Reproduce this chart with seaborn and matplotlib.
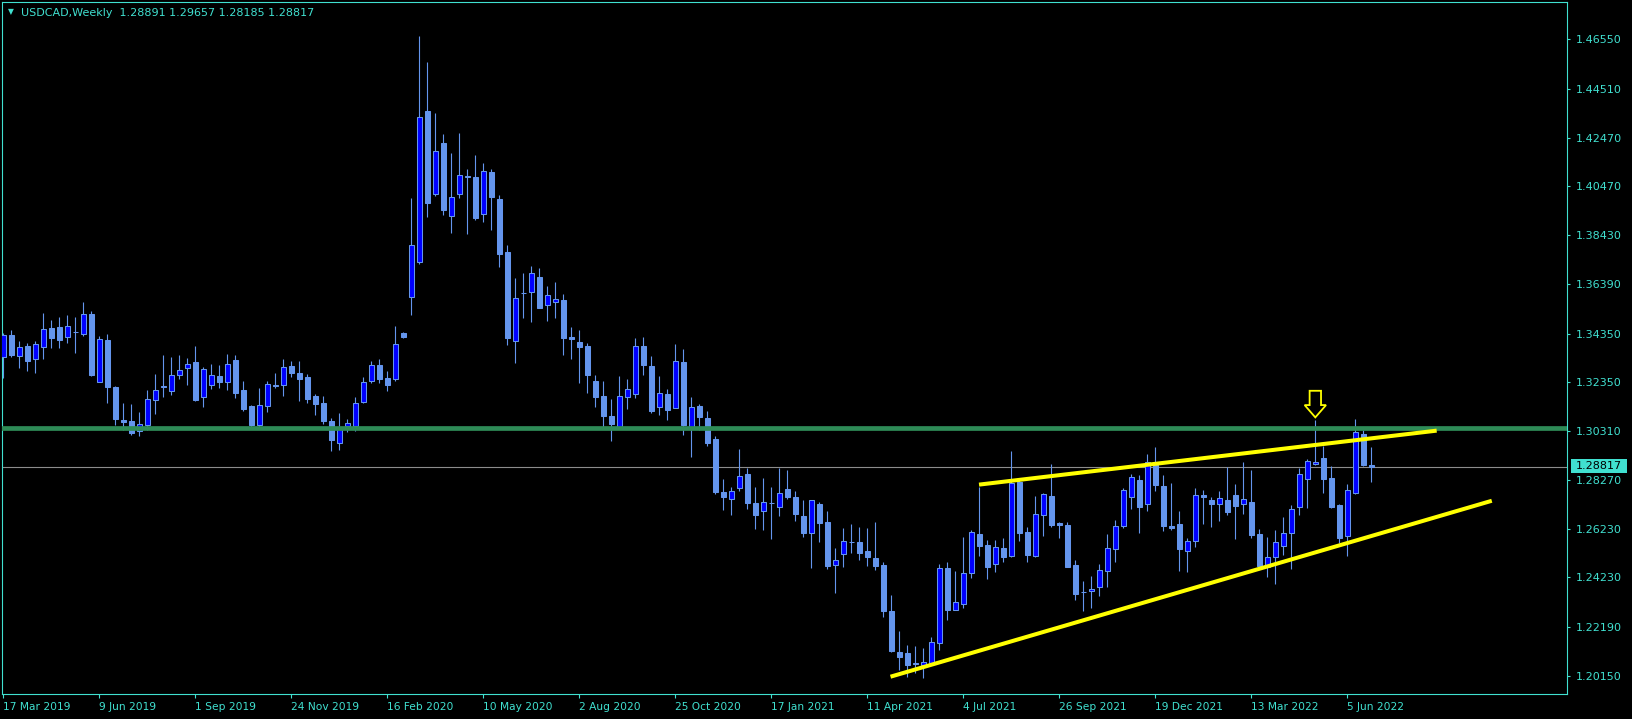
import numpy as np
import pandas as pd
import matplotlib
matplotlib.use("Agg")
import matplotlib.pyplot as plt
import seaborn as sns
from matplotlib.patches import Polygon, Rectangle

# ---------------- data (weekly USDCAD candles) ----------------
opens = [1.3336, 1.3429, 1.3343, 1.3383, 1.3331, 1.3381, 1.3458, 1.3462, 1.3422, 1.3441,
         1.3434, 1.3516, 1.3235, 1.3408, 1.3213, 1.3076, 1.3072, 1.3032, 1.3055, 1.3161,
         1.3216, 1.3198, 1.3264, 1.3293, 1.3317, 1.3173, 1.3220, 1.3259, 1.3235, 1.3325,
         1.3201, 1.3134, 1.3057, 1.3136, 1.3220, 1.3223, 1.3300, 1.3270, 1.3255, 1.3176,
         1.3147, 1.3072, 1.2982, 1.3051, 1.3053, 1.3152, 1.3237, 1.3303, 1.3249, 1.3245,
         1.3436, 1.3588, 1.3733, 1.4358, 1.4015, 1.4226, 1.3924, 1.4015, 1.4088, 1.4085,
         1.3932, 1.4105, 1.3993, 1.3773, 1.3405, 1.3605, 1.3609, 1.3668, 1.3555, 1.3567,
         1.3574, 1.3419, 1.3399, 1.3383, 1.3238, 1.3176, 1.3093, 1.3049, 1.3173, 1.3185,
         1.3382, 1.3300, 1.3129, 1.3184, 1.3127, 1.3317, 1.3042, 1.3134, 1.3084, 1.2997,
         1.2777, 1.2750, 1.2795, 1.2852, 1.2732, 1.2700, 1.2731, 1.2717, 1.2790, 1.2757,
         1.2678, 1.2609, 1.2728, 1.2653, 1.2473, 1.2519, 1.2569, 1.2569, 1.2531, 1.2502,
         1.2473, 1.2284, 1.2112, 1.2108, 1.2066, 1.2061, 1.2069, 1.2152, 1.2462, 1.2288,
         1.2313, 1.2443, 1.2603, 1.2556, 1.2477, 1.2544, 1.2513, 1.2818, 1.2610, 1.2513,
         1.2681, 1.2761, 1.2647, 1.2639, 1.2473, 1.2362, 1.2365, 1.2382, 1.2448, 1.2540,
         1.2638, 1.2755, 1.2827, 1.2726, 1.2903, 1.2802, 1.2635, 1.2645, 1.2531, 1.2576,
         1.2765, 1.2744, 1.2729, 1.2744, 1.2765, 1.2726, 1.2736, 1.2603, 1.2468, 1.2509,
         1.2555, 1.2606, 1.2714, 1.2830, 1.2895, 1.2917, 1.2834, 1.2723, 1.2593, 1.2775,
         1.3017, 1.28891]
highs = [1.3436, 1.3450, 1.3404, 1.3394, 1.3404, 1.3521, 1.3491, 1.3504, 1.3512, 1.3504,
         1.3566, 1.3527, 1.3423, 1.3433, 1.3219, 1.3147, 1.3143, 1.3109, 1.3201, 1.3267,
         1.3346, 1.3338, 1.3346, 1.3333, 1.3383, 1.3295, 1.3309, 1.3304, 1.3350, 1.3346,
         1.3238, 1.3137, 1.3210, 1.3238, 1.3271, 1.3329, 1.3321, 1.3321, 1.3266, 1.3184,
         1.3176, 1.3083, 1.3104, 1.3079, 1.3170, 1.3253, 1.3321, 1.3329, 1.3279, 1.3466,
         1.3441, 1.3996, 1.4669, 1.4562, 1.4350, 1.4263, 1.4183, 1.4267, 1.4118, 1.4176,
         1.4141, 1.4118, 1.4010, 1.3802, 1.3665, 1.3686, 1.3715, 1.3706, 1.3632, 1.3649,
         1.3599, 1.3462, 1.3450, 1.3394, 1.3263, 1.3238, 1.3163, 1.3259, 1.3246, 1.3416,
         1.3421, 1.3342, 1.3259, 1.3205, 1.3392, 1.3371, 1.3172, 1.3141, 1.3113, 1.3010,
         1.2831, 1.2798, 1.2956, 1.2877, 1.2798, 1.2835, 1.2798, 1.2878, 1.2869, 1.2782,
         1.2744, 1.2745, 1.2736, 1.2699, 1.2545, 1.2628, 1.2645, 1.2632, 1.2628, 1.2653,
         1.2486, 1.2350, 1.2201, 1.2141, 1.2138, 1.2129, 1.2176, 1.2477, 1.2486, 1.2450,
         1.2589, 1.2620, 1.2800, 1.2578, 1.2578, 1.2585, 1.2948, 1.2827, 1.2631, 1.2761,
         1.2775, 1.2894, 1.2653, 1.2652, 1.2495, 1.2408, 1.2429, 1.2479, 1.2603, 1.2661,
         1.2794, 1.2851, 1.2848, 1.2935, 1.2964, 1.2848, 1.2815, 1.2699, 1.2585, 1.2794,
         1.2784, 1.2758, 1.2782, 1.2880, 1.2811, 1.2901, 1.2869, 1.2624, 1.2589, 1.2620,
         1.2674, 1.2722, 1.2876, 1.2914, 1.3076, 1.2968, 1.2884, 1.2726, 1.2811, 1.3080,
         1.3035, 1.29657]
lows = [1.3249, 1.3339, 1.3293, 1.3281, 1.3273, 1.3329, 1.3375, 1.3375, 1.3396, 1.3356,
        1.3426, 1.3259, 1.3235, 1.3147, 1.3056, 1.3035, 1.3015, 1.3010, 1.3035, 1.3101,
        1.3172, 1.3180, 1.3248, 1.3221, 1.3155, 1.3132, 1.3206, 1.3210, 1.3201, 1.3169,
        1.3115, 1.3049, 1.3041, 1.3111, 1.3210, 1.3176, 1.3256, 1.3157, 1.3148, 1.3098,
        1.3061, 1.2949, 1.2952, 1.3028, 1.3032, 1.3145, 1.3231, 1.3231, 1.3198, 1.3239,
        1.3415, 1.3512, 1.3725, 1.3920, 1.4007, 1.3927, 1.3854, 1.3999, 1.3849, 1.3906,
        1.3898, 1.3865, 1.3711, 1.3387, 1.3314, 1.3500, 1.3484, 1.3540, 1.3488, 1.3500,
        1.3346, 1.3329, 1.3231, 1.3190, 1.3132, 1.3044, 1.2991, 1.3039, 1.3123, 1.3168,
        1.3263, 1.3107, 1.3098, 1.3076, 1.3125, 1.3014, 1.2924, 1.3035, 1.2970, 1.2769,
        1.2703, 1.2682, 1.2783, 1.2708, 1.2625, 1.2621, 1.2584, 1.2679, 1.2750, 1.2658,
        1.2592, 1.2463, 1.2571, 1.2459, 1.2360, 1.2468, 1.2526, 1.2497, 1.2472, 1.2455,
        1.2260, 1.2115, 1.2040, 1.2011, 1.2025, 1.2004, 1.2067, 1.2122, 1.2246, 1.2287,
        1.2298, 1.2422, 1.2512, 1.2418, 1.2447, 1.2486, 1.2506, 1.2575, 1.2488, 1.2509,
        1.2596, 1.2631, 1.2588, 1.2466, 1.2329, 1.2285, 1.2298, 1.2347, 1.2385, 1.2488,
        1.2627, 1.2708, 1.2606, 1.2700, 1.2783, 1.2617, 1.2620, 1.2451, 1.2446, 1.2551,
        1.2645, 1.2634, 1.2658, 1.2681, 1.2582, 1.2685, 1.2585, 1.2469, 1.2426, 1.2397,
        1.2517, 1.2457, 1.2681, 1.2710, 1.2891, 1.2775, 1.2712, 1.2564, 1.2512, 1.2769,
        1.2885, 1.28185]
closes = [1.3429, 1.3346, 1.3378, 1.3322, 1.3390, 1.3452, 1.3418, 1.3408, 1.3465, 1.3440,
          1.3516, 1.3263, 1.3411, 1.3213, 1.3080, 1.3069, 1.3024, 1.3058, 1.3163, 1.3201,
          1.3213, 1.3262, 1.3284, 1.3307, 1.3158, 1.3288, 1.3262, 1.3235, 1.3307, 1.3190,
          1.3123, 1.3054, 1.3137, 1.3224, 1.3218, 1.3295, 1.3270, 1.3248, 1.3165, 1.3144,
          1.3074, 1.2993, 1.3048, 1.3062, 1.3145, 1.3233, 1.3303, 1.3248, 1.3223, 1.3390,
          1.3422, 1.3801, 1.4332, 1.3978, 1.4191, 1.3948, 1.4002, 1.4091, 1.4086, 1.3914,
          1.4108, 1.4002, 1.3767, 1.3418, 1.3581, 1.3603, 1.3685, 1.3542, 1.3594, 1.3577,
          1.3418, 1.3411, 1.3381, 1.3263, 1.3173, 1.3094, 1.3061, 1.3176, 1.3204, 1.3382,
          1.3306, 1.3114, 1.3187, 1.3119, 1.3321, 1.3057, 1.3130, 1.3090, 1.2982, 1.2779,
          1.2758, 1.2780, 1.2842, 1.2733, 1.2683, 1.2735, 1.2730, 1.2772, 1.2758, 1.2688,
          1.2609, 1.2743, 1.2650, 1.2472, 1.2494, 1.2573, 1.2568, 1.2523, 1.2506, 1.2472,
          1.2285, 1.2119, 1.2094, 1.2061, 1.2064, 1.2071, 1.2154, 1.2462, 1.2288, 1.2320,
          1.2440, 1.2610, 1.2553, 1.2468, 1.2548, 1.2509, 1.2813, 1.2606, 1.2517, 1.2685,
          1.2768, 1.2642, 1.2641, 1.2468, 1.2356, 1.2361, 1.2376, 1.2454, 1.2544, 1.2635,
          1.2784, 1.2838, 1.2717, 1.2903, 1.2808, 1.2636, 1.2629, 1.2542, 1.2574, 1.2764,
          1.2758, 1.2728, 1.2751, 1.2696, 1.2719, 1.2747, 1.2599, 1.2470, 1.2506, 1.2569,
          1.2606, 1.2706, 1.2851, 1.2905, 1.2901, 1.2833, 1.2716, 1.2588, 1.2784, 1.3025,
          1.2889, 1.28817]

date_labels = ["17 Mar 2019", "9 Jun 2019", "1 Sep 2019", "24 Nov 2019", "16 Feb 2020",
               "10 May 2020", "2 Aug 2020", "25 Oct 2020", "17 Jan 2021", "11 Apr 2021",
               "4 Jul 2021", "26 Sep 2021", "19 Dec 2021", "13 Mar 2022", "5 Jun 2022"]
date_label_weeks = [0, 12, 24, 36, 48, 60, 72, 84, 96, 108, 120, 132, 144, 156, 168]
price_ticks = [1.46550, 1.44510, 1.42470, 1.40470, 1.38430, 1.36390, 1.34350, 1.32350,
               1.30310, 1.28270, 1.26230, 1.24230, 1.22190, 1.20150]

title_text = "USDCAD,Weekly  1.28891 1.29657 1.28185 1.28817"
support_level = 1.30417
last_price = 1.28817
upper_line_weeks = [121.96, 179.17]
upper_line_prices = [1.2808, 1.3032]
lower_line_weeks = [110.9, 186.06]
lower_line_prices = [1.2011, 1.2741]
arrow_week = 164
arrow_price = 1.3087

# ---------------- styling ----------------
W, H = 1633, 719
TQ = "#40E0D0"
CB = "#6495ED"
BULL = "#0000FF"
YEL = "#FFFF00"

sns.set_theme(style="dark", rc={"axes.facecolor": "black", "figure.facecolor": "black",
                                "axes.grid": False})
plt.rcParams["font.family"] = ["DejaVu Sans"]

fig = plt.figure(figsize=(W / 100, H / 100), dpi=100, facecolor="black")
ax_l, ax_r, ax_t, ax_b = 2, 1567, 2, 694
ax = fig.add_axes([ax_l / W, (H - ax_b) / H, (ax_r - ax_l) / W, (ax_b - ax_t) / H])
ax.set_facecolor("black")

xmin, xmax = -0.166, 195.46
ymin, ymax = 1.19392, 1.48106

df = pd.DataFrame({"week": np.arange(len(opens)), "open": opens, "high": highs,
                   "low": lows, "close": closes})
df["bottom"] = df[["open", "close"]].min(axis=1)
df["height"] = (df["close"] - df["open"]).abs().clip(lower=0.00008)
df["bull"] = df["close"] > df["open"]

# wicks
ax.vlines(df["week"], df["low"], df["high"], color=CB, linewidth=0.8, zorder=2)
# bodies
bw = 0.56
bull = df[df["bull"]]
bear = df[~df["bull"]]
ax.bar(bear["week"], bear["height"], bottom=bear["bottom"], width=bw, color=CB,
       edgecolor=CB, linewidth=0.75, zorder=3)
ax.bar(bull["week"], bull["height"], bottom=bull["bottom"], width=bw, color=BULL,
       edgecolor=CB, linewidth=0.75, zorder=3)

# horizontal levels
ax.axhline(support_level, color="#2E8B57", linewidth=3.4, zorder=4)
ax.axhline(last_price, color="#8C8C8C", linewidth=0.8, zorder=1)

# trend lines
tl = pd.DataFrame({"week": upper_line_weeks + lower_line_weeks,
                   "price": upper_line_prices + lower_line_prices,
                   "line": ["upper", "upper", "lower", "lower"]})
sns.lineplot(data=tl, x="week", y="price", units="line", estimator=None, color=YEL,
             linewidth=2.9, ax=ax, zorder=5, legend=False, solid_capstyle="butt")

# arrow marker (drawn in pixel offsets from its tip)
px_per_week = (ax_r - ax_l) / (xmax - xmin)
px_per_price = (ax_b - ax_t) / (ymax - ymin)
arrow_px = [(0, 0), (-10.7, 12.3), (-5.7, 12.3), (-5.7, 26.6), (5.7, 26.6), (5.7, 12.3),
            (10.7, 12.3)]
verts = [(arrow_week + dx / px_per_week, arrow_price + dy / px_per_price) for dx, dy in arrow_px]
ax.add_patch(Polygon(verts, closed=True, fill=False, edgecolor=YEL, linewidth=1.3, zorder=6))

ax.set_xlim(xmin, xmax)
ax.set_ylim(ymin, ymax)

# axes & ticks
for s in ax.spines.values():
    s.set_color(TQ)
    s.set_linewidth(0.8)
    s.set_visible(True)

ax.yaxis.tick_right()
ax.set_yticks(price_ticks)
ax.set_yticklabels([f"{v:.5f}" for v in price_ticks])
ax.set_xticks(date_label_weeks)
ax.set_xticklabels(date_labels, ha="left")
ax.tick_params(axis="y", which="both", direction="out", length=2.2, width=0.8,
               colors=TQ, labelsize=8, pad=4.5, left=False, right=True)
ax.tick_params(axis="x", which="both", direction="out", length=3, width=0.8,
               colors=TQ, labelsize=7.7, pad=2.5, bottom=True)
for lab in ax.get_xticklabels():
    lab.set_horizontalalignment("left")
ax.set_xlabel("")
ax.set_ylabel("")

# title line
fig.text(11 / W, 1 - 11.5 / H, "\u25BC", color=TQ, fontsize=5.5, ha="center", va="center")
fig.text(21 / W, 1 - 12.5 / H, title_text, color=TQ, fontsize=8, ha="left", va="center")

# current price tag
fig.patches.append(Rectangle((1571 / W, 1 - 473 / H), 56 / W, 14.5 / H,
                             transform=fig.transFigure, facecolor=TQ, edgecolor="none"))
fig.text(1599 / W, 1 - 465.8 / H, f"{last_price:.5f}", color="black", fontsize=8,
         ha="center", va="center")

fig.savefig("out.png", dpi=100, facecolor="black")
